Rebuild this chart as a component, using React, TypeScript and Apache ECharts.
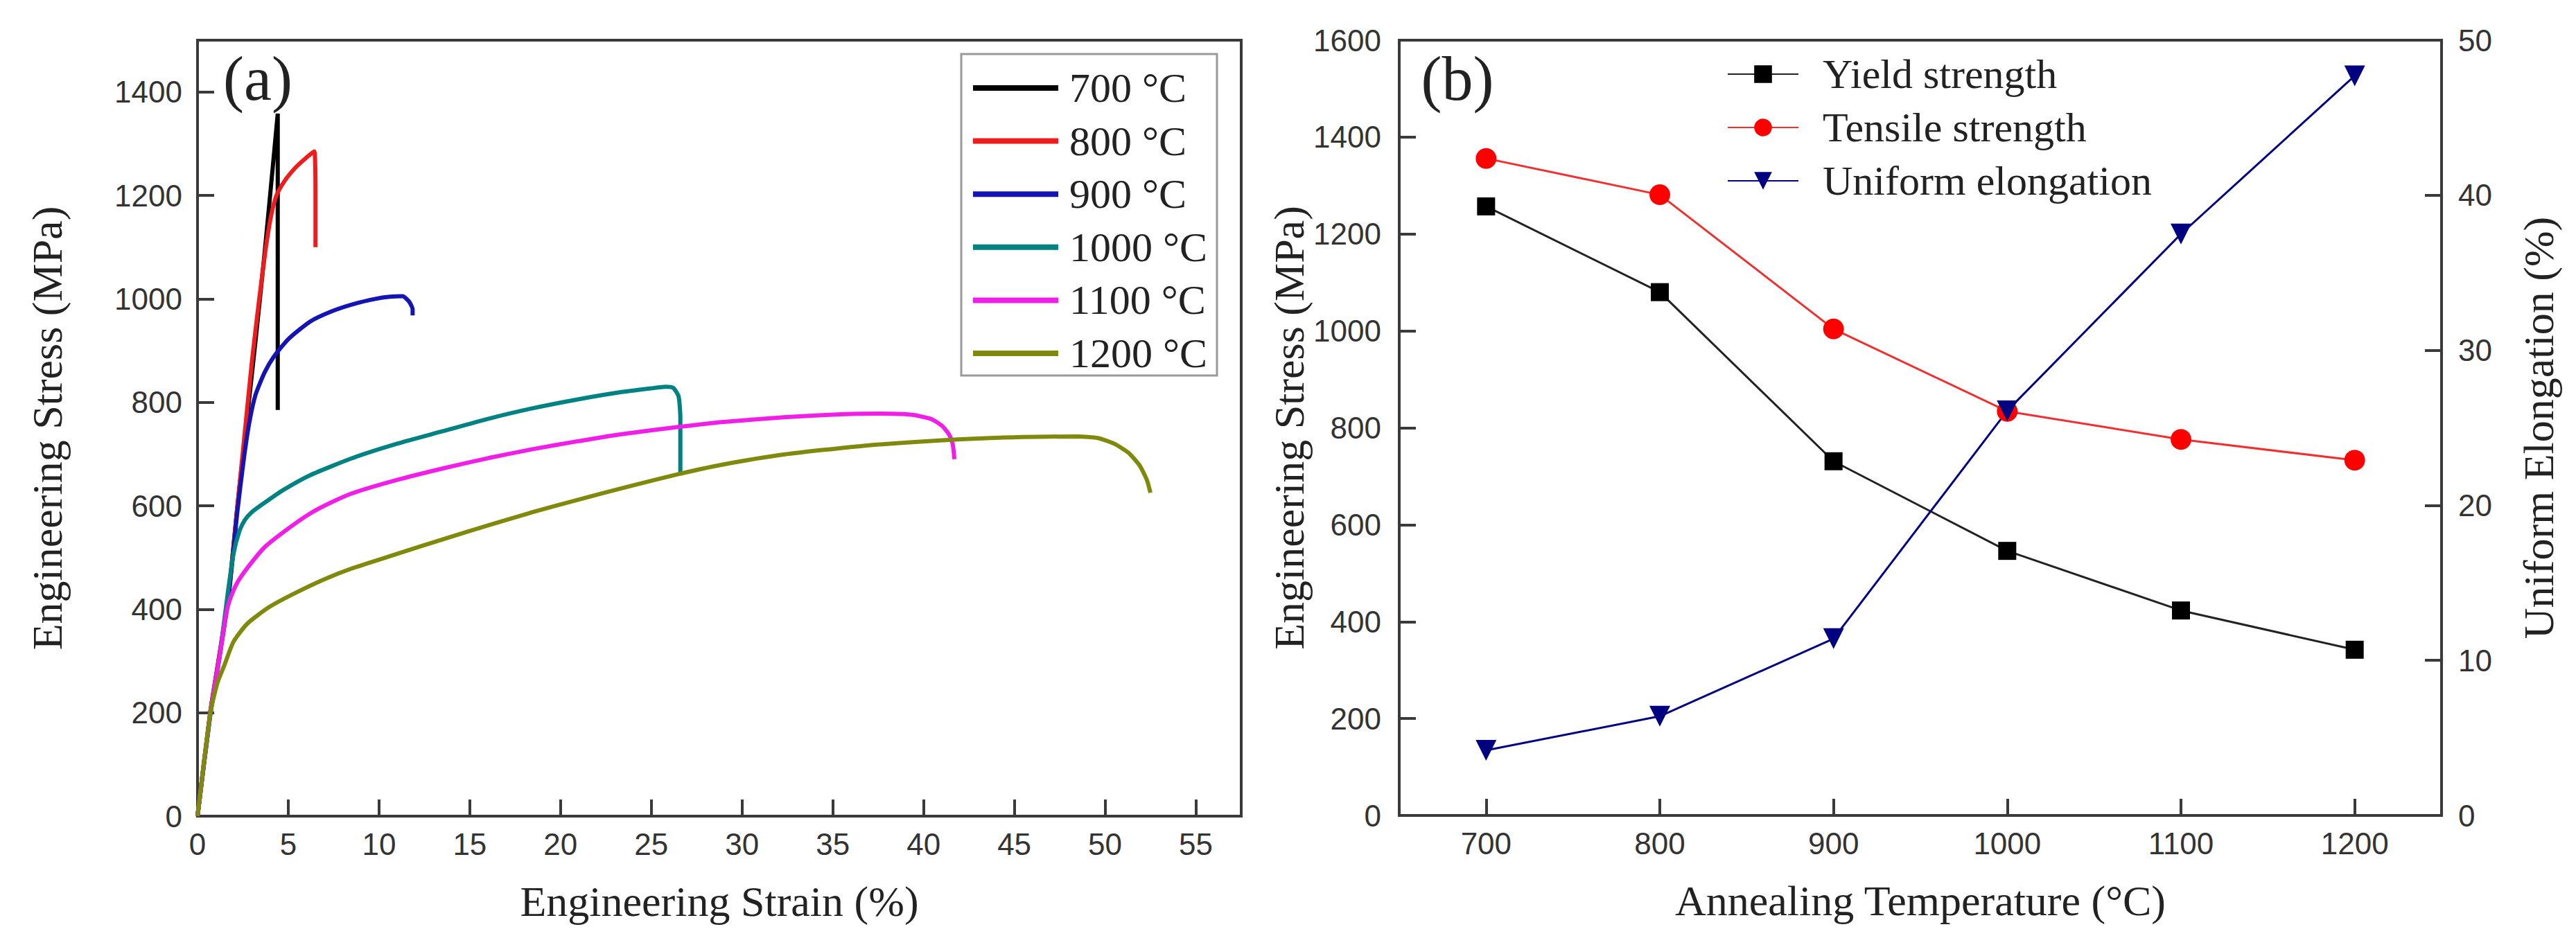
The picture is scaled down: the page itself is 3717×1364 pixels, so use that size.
import React, { useEffect, useRef } from 'react';
import * as echarts from 'echarts';

// ---------- Panel (a): engineering stress-strain curves [strain %, stress MPa] ----------
const curve700 = [[0, 0], [0.7, 200], [1.2, 310], [1.7, 425], [2.2, 600], [2.7, 760], [3.2, 920], [3.7, 1090], [4.0, 1200], [4.42, 1358], [4.42, 1100], [4.42, 785]];
const curve800 = [[0, 0], [0.7, 200], [1.2, 310], [1.7, 425], [2.2, 600], [2.6, 740], [3.0, 880], [3.4, 1000], [3.75, 1095], [4.05, 1160], [4.35, 1200], [4.8, 1228], [5.35, 1252], [5.9, 1270], [6.43, 1285], [6.5, 1200], [6.5, 1100]];
const curve900 = [[0, 0], [0.7, 195], [1.2, 305], [1.7, 420], [2.2, 590], [2.55, 690], [2.85, 760], [3.2, 815], [3.7, 858], [4.2, 888], [5.0, 922], [6.2, 956], [7.4, 976], [8.6, 990], [9.8, 1000], [10.6, 1004], [11.3, 1005], [11.65, 995], [11.85, 980], [11.85, 968]];
const curve1000 = [[0, 0], [0.7, 195], [1.2, 305], [1.7, 440], [2.0, 510], [2.3, 550], [2.6, 572], [3.0, 588], [3.7, 606], [4.7, 630], [6.2, 659], [8.6, 693], [11, 720], [13.5, 744], [16, 768], [18.4, 788], [21, 806], [23.2, 819], [25, 827], [25.8, 830], [26.2, 828], [26.5, 812], [26.6, 770], [26.6, 663]];
const curve1100 = [[0, 0], [0.7, 200], [1.2, 305], [1.6, 395], [1.85, 425], [2.2, 452], [2.75, 480], [3.7, 520], [5.0, 556], [6.2, 585], [7.4, 607], [8.6, 625], [11, 650], [13.5, 672], [16, 692], [18.4, 709], [21, 725], [23.5, 739], [26.4, 752], [29, 762], [32.3, 771], [35, 776], [37.5, 778], [39.3, 776], [40.4, 768], [41, 755], [41.4, 738], [41.6, 720], [41.7, 690]];
const curve1200 = [[0, 0], [0.7, 198], [1.1, 258], [1.46, 290], [1.98, 337], [2.74, 372], [3.9, 403], [5.2, 428], [7.0, 458], [8.6, 480], [11, 507], [13.5, 535], [16, 562], [18.5, 588], [21, 612], [23.5, 635], [26.6, 662], [29, 680], [32.3, 699], [36.7, 716], [41.7, 728], [45.5, 733], [48.5, 734], [49.6, 731], [50.5, 720], [51.3, 702], [51.9, 678], [52.3, 650], [52.5, 625]];

const curveNames = ['700 °C', '800 °C', '900 °C', '1000 °C', '1100 °C', '1200 °C'];
const curveColors = ['#000000', '#ee1c1c', '#1414b4', '#008282', '#f01ee6', '#7f8a0c'];
const curves = [curve700, curve800, curve900, curve1000, curve1100, curve1200];

// ---------- Panel (b): properties vs annealing temperature ----------
const temperatures = ['700', '800', '900', '1000', '1100', '1200'];
const yieldStrength = [1257, 1080, 731, 546, 423, 342];
const tensileStrength = [1356, 1281, 1004, 834, 776, 733];
const uniformElongation = [4.2, 6.4, 11.4, 26.1, 37.5, 47.7];

const AXIS = '#3a3a3a';
const LABEL = '#333333';
const TITLE = '#222222';
const SANS = '"Liberation Sans", Arial, sans-serif';
const SERIF = '"Liberation Serif", "Times New Roman", serif';

const plain = (v: number) => String(v);

function axisCommon() {
  return {
    axisLine: { show: true, onZero: false, lineStyle: { color: AXIS, width: 4 } },
    axisTick: { show: true, inside: true, length: 24, lineStyle: { color: AXIS, width: 4 } },
    splitLine: { show: false },
    nameLocation: 'middle' as const,
    nameTextStyle: { fontFamily: SERIF, fontSize: 62, color: TITLE },
  };
}

export default function App() {
  const ref = useRef<HTMLDivElement>(null);

  useEffect(() => {
    if (!ref.current) return;
    const chart = echarts.init(ref.current, undefined, { renderer: 'svg' });

    const seriesA = curves.map((c, i) => ({
      name: curveNames[i],
      type: 'line',
      xAxisIndex: 0,
      yAxisIndex: 0,
      data: c,
      showSymbol: false,
      symbol: 'none',
      smooth: 0.2,
      lineStyle: { color: curveColors[i], width: 6 },
      itemStyle: { color: curveColors[i] },
      z: 3,
    }));

    const option: any = {
      animation: false,
      backgroundColor: '#ffffff',
      textStyle: { fontFamily: SANS },
      grid: [
        { left: 285, top: 58, width: 1506, height: 1120, show: true, borderColor: AXIS, borderWidth: 4, containLabel: false },
        { left: 2019, top: 58, width: 1504, height: 1119, show: true, borderColor: AXIS, borderWidth: 4, containLabel: false },
      ],
      xAxis: [
        {
          ...axisCommon(),
          gridIndex: 0,
          type: 'value',
          min: 0,
          max: 57.5,
          interval: 5,
          name: 'Engineering Strain (%)',
          nameGap: 92,
          axisLabel: { fontFamily: SANS, fontSize: 44, color: LABEL, margin: 18, showMaxLabel: false, formatter: plain },
        },
        {
          ...axisCommon(),
          gridIndex: 1,
          type: 'category',
          data: temperatures,
          boundaryGap: true,
          axisTick: { show: true, inside: true, alignWithLabel: true, length: 24, lineStyle: { color: AXIS, width: 4 } },
          name: 'Annealing Temperature (°C)',
          nameGap: 92,
          axisLabel: { fontFamily: SANS, fontSize: 44, color: LABEL, margin: 18 },
        },
      ],
      yAxis: [
        {
          ...axisCommon(),
          gridIndex: 0,
          type: 'value',
          min: 0,
          max: 1500,
          interval: 200,
          name: 'Engineering Stress (MPa)',
          nameGap: 186,
          axisLabel: { fontFamily: SANS, fontSize: 44, color: LABEL, margin: 22, showMaxLabel: false, formatter: plain },
        },
        {
          ...axisCommon(),
          gridIndex: 1,
          type: 'value',
          min: 0,
          max: 1600,
          interval: 200,
          name: 'Engineering Stress (MPa)',
          nameGap: 121,
          axisLabel: { fontFamily: SANS, fontSize: 44, color: LABEL, margin: 26, formatter: plain },
        },
        {
          ...axisCommon(),
          gridIndex: 1,
          type: 'value',
          position: 'right',
          min: 0,
          max: 50,
          interval: 10,
          name: 'Uniform Elongation (%)',
          nameGap: 109,
          axisLabel: { fontFamily: SANS, fontSize: 44, color: LABEL, margin: 24, formatter: plain },
        },
      ],
      legend: [
        {
          data: curveNames,
          orient: 'vertical',
          left: 1404,
          top: 95,
          padding: 0,
          icon: 'rect',
          itemWidth: 123,
          itemHeight: 8,
          itemGap: 12.6,
          textStyle: { fontFamily: SERIF, fontSize: 60, color: TITLE, lineHeight: 64, padding: [0, 0, 0, 11] },
        },
        {
          data: ['Yield strength', 'Tensile strength', 'Uniform elongation'],
          orient: 'vertical',
          left: 2492,
          top: 77,
          padding: 0,
          itemWidth: 102,
          itemHeight: 32,
          itemGap: 17,
          textStyle: { fontFamily: SERIF, fontSize: 60, color: TITLE, lineHeight: 60, padding: [0, 0, 0, 30] },
        },
      ],
      graphic: [
        { type: 'rect', shape: { x: 1387, y: 78, width: 369, height: 464 }, style: { fill: 'none', stroke: '#9a9a9a', lineWidth: 3 }, z: 10 },
        { type: 'text', x: 372, y: 113, style: { text: '(a)', fontFamily: SERIF, fontSize: 90, fill: TITLE, align: 'center', verticalAlign: 'middle' }, z: 10 },
        { type: 'text', x: 2103, y: 113, style: { text: '(b)', fontFamily: SERIF, fontSize: 90, fill: TITLE, align: 'center', verticalAlign: 'middle' }, z: 10 },
      ],
      series: [
        ...seriesA,
        {
          name: 'Yield strength',
          type: 'line',
          xAxisIndex: 1,
          yAxisIndex: 1,
          data: yieldStrength,
          symbol: 'rect',
          symbolSize: 26,
          lineStyle: { color: '#222222', width: 3 },
          itemStyle: { color: '#000000' },
          z: 4,
        },
        {
          name: 'Tensile strength',
          type: 'line',
          xAxisIndex: 1,
          yAxisIndex: 1,
          data: tensileStrength,
          symbol: 'circle',
          symbolSize: 30,
          lineStyle: { color: '#f03030', width: 3 },
          itemStyle: { color: '#ff0000' },
          z: 4,
        },
        {
          name: 'Uniform elongation',
          type: 'line',
          xAxisIndex: 1,
          yAxisIndex: 2,
          data: uniformElongation,
          symbol: 'triangle',
          symbolRotate: 180,
          symbolSize: 30,
          lineStyle: { color: '#000080', width: 3 },
          itemStyle: { color: '#000080' },
          z: 4,
        },
      ],
    };

    chart.setOption(option);
    return () => {
      chart.dispose();
    };
  }, []);

  return (
    <div
      ref={ref}
      style={{ position: 'fixed', left: 0, top: 0, width: 3717, height: 1364, background: '#ffffff' }}
    />
  );
}
